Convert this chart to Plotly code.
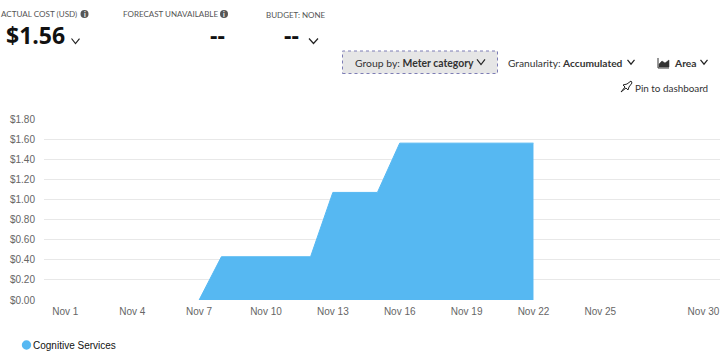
import plotly.graph_objects as go

dates = ["2024-11-07", "2024-11-08", "2024-11-12", "2024-11-13", "2024-11-15", "2024-11-16", "2024-11-22"]
costs = [0.00, 0.43, 0.43, 1.07, 1.07, 1.56, 1.56]
x_tick_dates = ["2024-11-01", "2024-11-04", "2024-11-07", "2024-11-10", "2024-11-13", "2024-11-16",
                "2024-11-19", "2024-11-22", "2024-11-25", "2024-11-29 15:00"]
x_tick_labels = ["Nov 1", "Nov 4", "Nov 7", "Nov 10", "Nov 13", "Nov 16", "Nov 19", "Nov 22", "Nov 25", "Nov 30"]
y_ticks = [0.0, 0.2, 0.4, 0.6, 0.8, 1.0, 1.2, 1.4, 1.6, 1.8]
y_tick_labels = ["$0.00", "$0.20", "$0.40", "$0.60", "$0.80", "$1.00", "$1.20", "$1.40", "$1.60", "$1.80"]
series_name = "Cognitive Services"

W, H = 720, 364
BLUE = "#56b8f2"
UI = "Lato"
BIG = "Open Sans"
ARIAL = "Liberation Sans"


def px(x):
    return x / W


def py(y):
    return 1 - y / H


fig = go.Figure()
fig.add_trace(go.Scatter(x=dates, y=costs, mode="lines", fill="tozeroy", fillcolor=BLUE,
                         line=dict(color=BLUE, width=1), name=series_name, showlegend=False,
                         hoverinfo="x+y"))


def text(x, y, s, size=11, color="#444444", family=UI, anchor="left"):
    fig.add_annotation(xref="paper", yref="paper", x=px(x), y=py(y), text=s, showarrow=False,
                       xanchor=anchor, yanchor="middle", align=anchor,
                       font=dict(size=size, color=color, family=family), borderpad=0, borderwidth=0)


def path(points, color="#222222", width=1.2, fill=None, close=False):
    d = "M " + " L ".join(f"{px(a):.5f},{py(b):.5f}" for a, b in points) + (" Z" if close else "")
    fig.add_shape(type="path", xref="paper", yref="paper", path=d,
                  line=dict(color=color, width=width), fillcolor=fill, layer="above")


def chevron(cx, cy, w=4, h=2.5, color="#222222", width=1.2):
    path([(cx - w, cy - h), (cx, cy + h), (cx + w, cy - h)], color=color, width=width)


def circle(cx, cy, r, fill):
    fig.add_shape(type="circle", xref="paper", yref="paper", x0=px(cx - r), x1=px(cx + r),
                  y0=py(cy + r), y1=py(cy - r), fillcolor=fill, line=dict(width=0), layer="above")


def info(cx, cy):
    circle(cx, cy, 4, "#555555")
    text(cx, cy, "<b>i</b>", size=7, color="#ffffff", anchor="center")


# Header figures
text(1, 14, "ACTUAL COST (USD)", size=8.1, color="#555555")
info(84.5, 14)
text(6, 35, "<b>$1.56</b>", size=23, color="#111111", family=BIG)
chevron(75.5, 41, 4, 2.5)
text(122.5, 14, "FORECAST UNAVAILABLE", size=8.0, color="#555555")
info(224, 14)
text(218, 35, "<b>--</b>", size=23, color="#111111", anchor="center", family=BIG)
text(265.5, 15, "BUDGET: NONE", size=8.0, color="#555555")
text(291, 35, "<b>--</b>", size=23, color="#111111", anchor="center", family=BIG)
chevron(313.5, 41, 4.5, 2.5)

# Toolbar
fig.add_shape(type="rect", xref="paper", yref="paper", x0=px(342.5), x1=px(497.5), y0=py(73.5), y1=py(51),
              fillcolor="#e6e6e6", line=dict(color="#7d7db5", width=1, dash="dot"), layer="below")
text(355, 63, "Group by: <b>Meter category</b>", size=10.4, color="#333333")
chevron(481, 62, 4, 2.5)
text(508, 63, "Granularity: <b>Accumulated</b>", size=10.2, color="#333333")
chevron(631, 62, 3.5, 2.2)
# area-chart glyph
path([(658, 58), (658, 68), (669, 68)], color="#333333", width=1)
path([(659, 67), (659, 64), (662, 61), (665, 63), (669, 60), (669, 67)], color="#333333", width=0.5,
     fill="#333333", close=True)
text(674, 63, "<b>Area</b>", size=10.3, color="#333333")
chevron(704, 62, 3.5, 2.2)
# pin glyph
path([(621, 92), (625, 87), (623, 85), (627, 84), (631, 81), (632, 83), (629, 87), (628, 90), (626, 88), (621, 92)],
     color="#222222", width=1)
text(635, 87.5, "Pin to dashboard", size=9.9, color="#333333")

# Legend
circle(26.5, 345, 4.7, BLUE)
text(33, 345, series_name, size=10, color="#111111", family=ARIAL)

fig.update_layout(
    width=W, height=H, autosize=False,
    margin=dict(l=0, r=0, t=0, b=0, pad=0),
    paper_bgcolor="white", plot_bgcolor="white",
    showlegend=False,
    xaxis=dict(domain=[px(44), 1], type="date", automargin=False,
               range=["2024-10-31 01:00", "2024-11-30 08:50"],
               tickmode="array", tickvals=x_tick_dates, ticktext=x_tick_labels,
               showgrid=False, zeroline=False, showline=False, ticks="outside", ticklen=2,
               tickcolor="rgba(0,0,0,0)", ticklabeloverflow="allow",
               tickfont=dict(family=ARIAL, size=10, color="#666666")),
    yaxis=dict(domain=[py(300), py(119)], range=[0, 1.8], automargin=False,
               tickmode="array", tickvals=y_ticks, ticktext=y_tick_labels,
               showgrid=True, gridcolor="#e8e8e8", gridwidth=1.4, zeroline=False, showline=False,
               ticks="outside", ticklen=6, tickcolor="rgba(0,0,0,0)",
               tickfont=dict(family=ARIAL, size=10, color="#666666")),
)

fig.write_html("out.html", config={"displayModeBar": False}, post_script="document.body.style.margin='0';")
